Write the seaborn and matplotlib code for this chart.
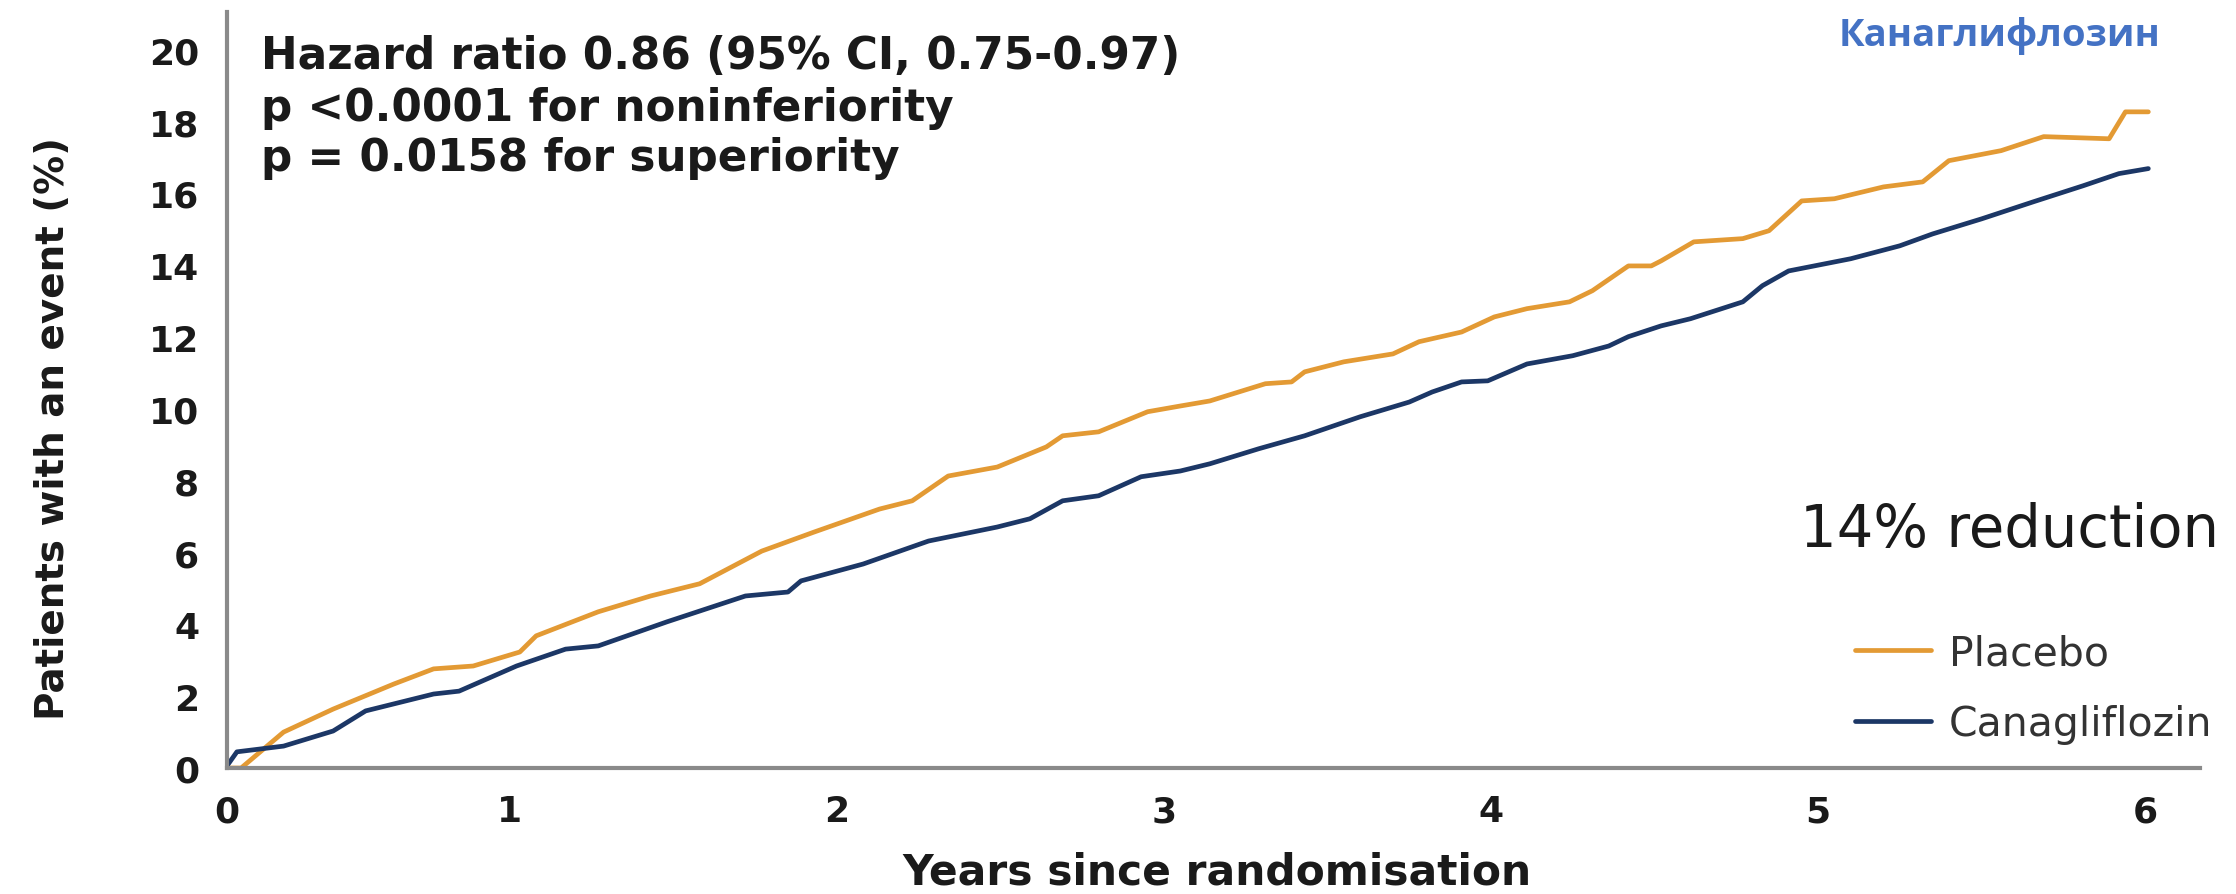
import numpy as np
import pandas as pd
import matplotlib
matplotlib.use("Agg")
import matplotlib.pyplot as plt
import seaborn as sns

# Cumulative incidence (% of patients with an event) read at successive times (years)
placebo_years = [0.0, 0.05, 0.20, 0.375, 0.59, 0.73, 0.87, 1.03, 1.08, 1.27, 1.43, 1.58,
                 1.77, 1.93, 2.13, 2.23, 2.34, 2.49, 2.64, 2.69, 2.80, 2.95, 3.05, 3.14,
                 3.31, 3.39, 3.43, 3.55, 3.70, 3.78, 3.91, 4.01, 4.11, 4.24, 4.31, 4.42,
                 4.49, 4.52, 4.62, 4.77, 4.85, 4.95, 5.05, 5.20, 5.32, 5.40, 5.56, 5.69,
                 5.89, 5.94, 6.01]
placebo_pct = [0.0, 0.0, 1.00, 1.64, 2.34, 2.76, 2.84, 3.23, 3.68, 4.35, 4.79, 5.13,
               6.04, 6.57, 7.21, 7.44, 8.13, 8.38, 8.94, 9.25, 9.36, 9.92, 10.08, 10.22,
               10.70, 10.75, 11.03, 11.31, 11.53, 11.87, 12.14, 12.56, 12.79, 12.98, 13.29, 13.98,
               13.98, 14.12, 14.65, 14.74, 14.96, 15.79, 15.85, 16.18, 16.32, 16.91, 17.19, 17.58,
               17.52, 18.27, 18.27]

cana_years = [0.0, 0.035, 0.20, 0.375, 0.49, 0.73, 0.82, 1.02, 1.17, 1.27, 1.48, 1.58,
              1.72, 1.85, 1.89, 2.08, 2.28, 2.49, 2.59, 2.69, 2.80, 2.93, 3.05, 3.14,
              3.29, 3.43, 3.60, 3.75, 3.82, 3.91, 3.99, 4.11, 4.25, 4.36, 4.42, 4.52,
              4.61, 4.77, 4.83, 4.91, 5.10, 5.25, 5.35, 5.50, 5.66, 5.81, 5.92, 6.01]
cana_pct = [0.06, 0.45, 0.61, 1.03, 1.59, 2.06, 2.14, 2.84, 3.31, 3.40, 4.07, 4.37,
            4.79, 4.90, 5.21, 5.68, 6.32, 6.71, 6.94, 7.44, 7.58, 8.11, 8.27, 8.47,
            8.89, 9.25, 9.78, 10.19, 10.47, 10.75, 10.78, 11.25, 11.48, 11.75, 12.01, 12.31,
            12.51, 12.98, 13.43, 13.84, 14.18, 14.54, 14.87, 15.29, 15.77, 16.21, 16.55, 16.69]

arm_labels = ["Placebo", "Canagliflozin"]
arm_colors = {"Placebo": "#E39A34", "Canagliflozin": "#1C3766"}
x_ticks = [0, 1, 2, 3, 4, 5, 6]
y_ticks = [0, 2, 4, 6, 8, 10, 12, 14, 16, 18, 20]

stats_lines = ["Hazard ratio 0.86 (95% CI, 0.75-0.97)",
               "p <0.0001 for noninferiority",
               "p = 0.0158 for superiority"]
reduction_text = "14% reduction"
drug_title = "Канаглифлозин"

df = pd.concat([
    pd.DataFrame({"years": placebo_years, "pct": placebo_pct, "arm": "Placebo"}),
    pd.DataFrame({"years": cana_years, "pct": cana_pct, "arm": "Canagliflozin"}),
], ignore_index=True)

sns.set_style("white")
plt.rcParams["font.family"] = ["DejaVu Sans"]

W, H = 2236, 895
fig = plt.figure(figsize=(W / 100, H / 100), dpi=100)
fig.patch.set_facecolor("white")


def fx(px):
    return px / W


def fy(py):
    return 1 - py / H


ax_left, ax_right, ax_top, ax_bottom = 227, 2200, 13, 769
ax = fig.add_axes([fx(ax_left), fy(ax_bottom), fx(ax_right - ax_left), (ax_bottom - ax_top) / H])

# The first year is drawn slightly compressed relative to the later years
K = 0.8654


def fwd(x):
    x = np.asarray(x, dtype=float)
    return np.where(x < 1, x * K, x - 1 + K)


def inv(u):
    u = np.asarray(u, dtype=float)
    return np.where(u < K, u / K, u + 1 - K)


ax.set_xscale("function", functions=(fwd, inv))

sns.lineplot(data=df, x="years", y="pct", hue="arm", hue_order=arm_labels,
             palette=arm_colors, linewidth=3.4, estimator=None, legend=False, ax=ax)

ax.set_xlim(0, 6.168)
ax.set_ylim(0, 21.05)
ax.set_xticks(x_ticks, labels=[str(t) for t in x_ticks])
ax.set_yticks(y_ticks, labels=[str(t) for t in y_ticks])
ax.minorticks_off()

for side in ["top", "right"]:
    ax.spines[side].set_visible(False)
for side in ["left", "bottom"]:
    ax.spines[side].set_color("#8a8a8a")
    ax.spines[side].set_linewidth(3)

ax.tick_params(axis="both", which="major", direction="out", length=11, width=2,
               color="#8a8a8a", labelsize=26, labelcolor="#1a1a1a")
ax.tick_params(axis="x", pad=8)
ax.tick_params(axis="y", pad=9)
for lab in ax.get_xticklabels() + ax.get_yticklabels():
    lab.set_fontweight("bold")

ax.set_xlabel("Years since randomisation", fontsize=30.5, fontweight="bold", color="#1a1a1a")
ax.xaxis.label.set_va("baseline")
ax.xaxis.set_label_coords((1217 - ax_left) / (ax_right - ax_left), -(885 - ax_bottom) / (ax_bottom - ax_top))
ax.set_ylabel("Patients with an event (%)", fontsize=28, fontweight="bold", color="#1a1a1a")
ax.yaxis.set_label_coords(-(ax_left - 72) / (ax_right - ax_left), (ax_bottom - 428) / (ax_bottom - ax_top))

# Hazard-ratio summary block
for line, base in zip(stats_lines, [69, 121, 171]):
    fig.text(fx(261), fy(base), line, fontsize=31.5, fontweight="bold",
             color="#1a1a1a", va="baseline", ha="left")

fig.text(fx(1800), fy(547), reduction_text, fontsize=41.5, color="#1a1a1a",
         va="baseline", ha="left")

fig.text(fx(2160), fy(46), drug_title, fontsize=27.5, fontweight="bold", color="#4472C4",
         family=["Open Sans", "DejaVu Sans"], va="baseline", ha="right")

handles = [plt.Line2D([], [], color=arm_colors[a], linewidth=3.4) for a in arm_labels]
fig.legend(handles, arm_labels, loc="upper left", bbox_to_anchor=(fx(1855), fy(634)),
           frameon=False, fontsize=29.5, handlelength=1.85, handletextpad=0.45,
           labelspacing=0.76, borderpad=0, borderaxespad=0, labelcolor="#333333")

fig.savefig("out.png", dpi=100, facecolor="white")
